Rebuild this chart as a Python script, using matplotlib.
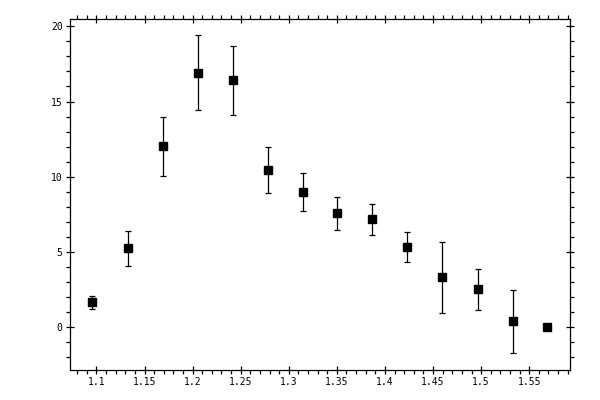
import matplotlib
matplotlib.use('Agg')
import matplotlib.pyplot as plt
from matplotlib.ticker import MultipleLocator

x_vals = [1.0958, 1.1327, 1.1688, 1.2052, 1.2417, 1.2781, 1.3143,
          1.3504, 1.3865, 1.4229, 1.4598, 1.4963, 1.5327, 1.5688]
y_vals = [1.64, 5.23, 12.01, 16.93, 16.40, 10.42, 8.96,
          7.56, 7.16, 5.30, 3.30, 2.51, 0.38, 0.0]
y_err = [0.43, 1.19, 1.98, 2.47, 2.30, 1.53, 1.27,
         1.10, 1.03, 1.00, 2.36, 1.37, 2.10, 0.0]

fig = plt.figure(figsize=(6, 4), dpi=100)
ax = fig.add_axes([0.116, 0.075, 0.834, 0.8775])

ax.errorbar(x_vals, y_vals, yerr=y_err, fmt='s', color='black',
            markersize=5.8, elinewidth=0.9, capsize=2.0, capthick=0.9,
            ecolor='black')

ax.set_xlim(1.0721, 1.5924)
ax.set_ylim(-2.86, 20.49)

ax.xaxis.set_major_locator(MultipleLocator(0.05))
ax.xaxis.set_minor_locator(MultipleLocator(0.01))
ax.yaxis.set_major_locator(MultipleLocator(5))
ax.yaxis.set_minor_locator(MultipleLocator(1))
ax.set_xticklabels([], minor=True)

def fmt(v, pos):
    s = ('%.2f' % v).rstrip('0').rstrip('.')
    return s

ax.xaxis.set_major_formatter(plt.FuncFormatter(fmt))
ax.yaxis.set_major_formatter(plt.FuncFormatter(fmt))

ax.tick_params(which='major', direction='inout', length=6, width=0.9,
               top=True, right=True, labelsize=7, pad=2)
ax.tick_params(which='minor', direction='out', length=3, width=0.9,
               top=True, right=True)
for lab in ax.get_xticklabels() + ax.get_yticklabels():
    lab.set_family('DejaVu Sans Mono')

for sp in ax.spines.values():
    sp.set_linewidth(0.9)

fig.savefig('out.png', dpi=100)
